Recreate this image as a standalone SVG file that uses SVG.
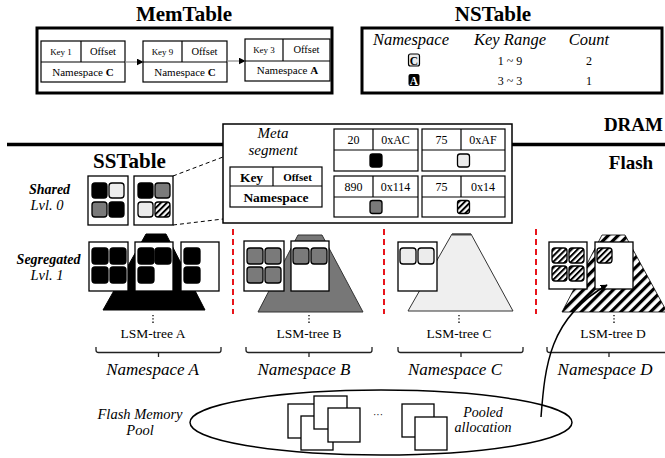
<svg xmlns="http://www.w3.org/2000/svg" width="665" height="458" viewBox="0 0 665 458">
  <defs>
    <pattern id="hatch" width="7" height="7" patternUnits="userSpaceOnUse" patternTransform="rotate(45)">
      <rect width="7" height="7" fill="#fff"/>
      <rect width="3.2" height="7" fill="#000"/>
    </pattern>
    <pattern id="hatch-fine" width="4.2" height="4.2" patternUnits="userSpaceOnUse" patternTransform="rotate(45)">
      <rect width="4.2" height="4.2" fill="#fff"/>
      <rect width="2" height="4.2" fill="#000"/>
    </pattern>
    <marker id="head" viewBox="0 0 10 10" refX="9" refY="5" markerWidth="7" markerHeight="7" markerUnits="userSpaceOnUse" orient="auto">
      <path d="M0,0 L10,5 L0,10 Z" fill="#000"/>
    </marker>
  </defs>
  <style>
    text { font-family: "Liberation Serif", "Times New Roman", serif; fill: #000; }
    .title { font-size: 21px; font-weight: bold; text-anchor: middle; }
    .frame { fill: #fff; stroke: #000; stroke-width: 3; }
    .cell { fill: #fff; stroke: #000; stroke-width: 1.2; }
    .sep { stroke: #000; stroke-width: 1.2; fill: none; }
    .c { text-anchor: middle; }
    .it { font-style: italic; }
    .bd { font-weight: bold; }
    .box { fill: #fff; stroke: #000; stroke-width: 1.3; }
    .tile { stroke: #000; stroke-width: 1.3; }
    .k { fill: #000; }
    .g { fill: #7a7a7a; }
    .l { fill: #ececec; }
    .h { fill: url(#hatch-fine); }
    .reddash { stroke: #e8141b; stroke-width: 2; stroke-dasharray: 6 4; fill: none; }
    .zoomline { stroke: #000; stroke-width: 1; stroke-dasharray: 4 3; fill: none; }
    .dots { stroke: #000; stroke-width: 1.3; stroke-dasharray: 1.3 2; fill: none; }
    .brace { stroke: #222; stroke-width: 1.3; fill: none; }
    .page { fill: #fff; stroke: #000; stroke-width: 1.3; }
  </style>

  <rect width="665" height="458" fill="#fff"/>

  <!-- MemTable -->
  <g id="memtable">
    <text class="title" x="184" y="21">MemTable</text>
    <rect class="frame" x="37" y="28" width="295" height="65"/>
    <g id="mem-entry-1">
      <rect class="cell" x="41" y="41" width="84" height="41"/>
      <path class="sep" d="M41,62 H125 M81,41 V62"/>
      <text class="c" x="61" y="55" font-size="9">Key 1</text>
      <text class="c" x="103" y="55" font-size="10.5">Offset</text>
      <text class="c" x="83" y="76" font-size="11">Namespace <tspan class="bd">C</tspan></text>
    </g>
    <g id="mem-entry-2">
      <rect class="cell" x="143" y="41" width="84" height="41"/>
      <path class="sep" d="M143,62 H227 M182,41 V62"/>
      <text class="c" x="162.5" y="55" font-size="9">Key 9</text>
      <text class="c" x="204.5" y="55" font-size="10.5">Offset</text>
      <text class="c" x="185" y="76" font-size="11">Namespace <tspan class="bd">C</tspan></text>
    </g>
    <g id="mem-entry-3">
      <rect class="cell" x="245" y="39" width="85" height="42"/>
      <path class="sep" d="M245,61 H330 M283,39 V61"/>
      <text class="c" x="264" y="53" font-size="9">Key 3</text>
      <text class="c" x="306.5" y="53" font-size="10.5">Offset</text>
      <text class="c" x="287.5" y="74" font-size="11">Namespace <tspan class="bd">A</tspan></text>
    </g>
  </g>

  <!-- NSTable -->
  <g id="nstable">
    <text class="title" x="493" y="21">NSTable</text>
    <rect class="frame" x="362" y="28" width="300" height="65"/>
    <text class="c it" x="411" y="45" font-size="16.5">Namespace</text>
    <text class="c it" x="510" y="45" font-size="16.5">Key Range</text>
    <text class="c it" x="589" y="45" font-size="16.5">Count</text>
    <rect x="408.5" y="54" width="11" height="12" rx="2" fill="#ececec" stroke="#000" stroke-width="1.2"/>
    <text class="c bd" x="414" y="64.5" font-size="11.5">C</text>
    <text class="c" x="510" y="65" font-size="12">1 ~ 9</text>
    <text class="c" x="589" y="65" font-size="12">2</text>
    <rect x="408.5" y="74" width="11" height="12" rx="2" fill="#000"/>
    <text class="c bd" x="414" y="84.5" font-size="11.5" style="fill:#fff">A</text>
    <text class="c" x="510" y="85" font-size="12">3 ~ 3</text>
    <text class="c" x="589" y="85" font-size="12">1</text>
  </g>

  <!-- DRAM / Flash boundary -->
  <g id="boundary">
    <line x1="7" y1="144.5" x2="665" y2="144.5" stroke="#000" stroke-width="3.5"/>
    <text class="bd" x="663" y="131" font-size="19" text-anchor="end">DRAM</text>
    <text class="c bd" x="631" y="169" font-size="19">Flash</text>
    <text class="title" x="129.5" y="168">SSTable</text>
  </g>

  <!-- Level labels -->
  <g id="level-labels">
    <text class="c it bd" x="49.5" y="194" font-size="14">Shared</text>
    <text class="c it" x="47" y="210" font-size="14.5">Lvl. 0</text>
    <text class="c it bd" x="48.5" y="264" font-size="14">Segregated</text>
    <text class="c it" x="47" y="280" font-size="14.5">Lvl. 1</text>
  </g>

  <!-- Shared level 0 SSTables -->
  <g id="shared-lvl0">
    <rect class="box" x="88" y="176" width="40" height="49"/>
    <rect class="tile k" x="92" y="183" width="15" height="15" rx="3"/>
    <rect class="tile l" x="109" y="183" width="15" height="15" rx="3"/>
    <rect class="tile g" x="92" y="202" width="15" height="15" rx="3"/>
    <rect class="tile k" x="109" y="202" width="15" height="15" rx="3"/>
    <rect class="box" x="134" y="176" width="39" height="49"/>
    <rect class="tile k" x="138" y="183" width="15" height="15" rx="3"/>
    <rect class="tile g" x="155" y="183" width="15" height="15" rx="3"/>
    <rect class="tile l" x="138" y="202" width="15" height="15" rx="3"/>
    <rect class="tile h" x="155" y="202" width="15" height="15" rx="3"/>
  </g>

  <!-- Meta segment -->
  <g id="meta-segment">
    <rect x="223" y="124" width="289" height="99" fill="#fff" stroke="#000" stroke-width="1.5"/>
    <text class="c it" x="273" y="138" font-size="15">Meta</text>
    <text class="c it" x="273" y="155" font-size="15">segment</text>
    <rect class="cell" x="230" y="167" width="92" height="40"/>
    <path class="sep" d="M230,186 H322 M273,167 V186"/>
    <text class="c bd" x="251.5" y="182" font-size="13.5">Key</text>
    <text class="c bd" x="297.5" y="181" font-size="11">Offset</text>
    <text class="c bd" x="276" y="202" font-size="13.5">Namespace</text>

    <rect class="cell" x="334" y="129" width="84" height="42"/>
    <path class="sep" d="M334,150 H418 M373,129 V150"/>
    <text class="c" x="353.5" y="144" font-size="12">20</text>
    <text class="c" x="395.5" y="144" font-size="12">0xAC</text>
    <rect class="tile k" x="370" y="154" width="12" height="13" rx="2.5"/>

    <rect class="cell" x="422" y="129" width="83" height="42"/>
    <path class="sep" d="M422,150 H505 M461,129 V150"/>
    <text class="c" x="441.5" y="144" font-size="12">75</text>
    <text class="c" x="483" y="144" font-size="12">0xAF</text>
    <rect class="tile l" x="457.5" y="154" width="12" height="13" rx="2.5"/>

    <rect class="cell" x="334" y="176" width="84" height="41"/>
    <path class="sep" d="M334,197 H418 M373,176 V197"/>
    <text class="c" x="353.5" y="191" font-size="12">890</text>
    <text class="c" x="395.5" y="191" font-size="12">0x114</text>
    <rect class="tile g" x="370" y="200.5" width="12" height="13" rx="2.5"/>

    <rect class="cell" x="422" y="176" width="83" height="41"/>
    <path class="sep" d="M422,197 H505 M461,176 V197"/>
    <text class="c" x="441.5" y="191" font-size="12">75</text>
    <text class="c" x="483" y="191" font-size="12">0x14</text>
    <rect class="tile h" x="457.5" y="200.5" width="12" height="13" rx="2.5"/>
  </g>

  <!-- Namespace separators -->
  <g id="separators">
    <line class="reddash" x1="233" y1="229" x2="233" y2="314"/>
    <line class="reddash" x1="384" y1="229" x2="384" y2="314"/>
    <line class="reddash" x1="536" y1="229" x2="536" y2="314"/>
  </g>

  <!-- LSM-tree A -->
  <g id="lsm-tree-a">
    <polygon points="146,234 166,234 205,310 103,310" fill="#000" stroke="#000" stroke-width="1"/>
    <rect class="box" x="89" y="242" width="39" height="49"/>
    <rect class="tile k" x="92" y="248" width="16" height="16" rx="3"/>
    <rect class="tile k" x="110" y="248" width="16" height="16" rx="3"/>
    <rect class="tile k" x="92" y="267" width="16" height="16" rx="3"/>
    <rect class="tile k" x="110" y="267" width="16" height="16" rx="3"/>
    <rect class="box" x="135" y="242" width="38" height="49"/>
    <rect class="tile k" x="138" y="248" width="16" height="16" rx="3"/>
    <rect class="tile k" x="155" y="248" width="16" height="16" rx="3"/>
    <rect class="tile k" x="138" y="267" width="16" height="16" rx="3"/>
    <rect class="box" x="181" y="242" width="38" height="49"/>
    <rect class="tile k" x="184" y="248" width="16" height="16" rx="3"/>
    <rect class="tile k" x="184" y="267" width="16" height="16" rx="3"/>
    <line class="dots" x1="153" y1="315" x2="153" y2="324"/>
    <text class="c" x="153" y="338" font-size="13.5">LSM-tree A</text>
  </g>

  <!-- LSM-tree B -->
  <g id="lsm-tree-b">
    <polygon points="298,235 322,235 363,312 258,312" fill="#777" stroke="#333" stroke-width="1"/>
    <rect class="box" x="244" y="241" width="40" height="50"/>
    <rect class="tile g" x="247" y="248" width="16" height="16" rx="3"/>
    <rect class="tile g" x="265" y="248" width="16" height="16" rx="3"/>
    <rect class="tile g" x="247" y="267" width="16" height="16" rx="3"/>
    <rect class="tile g" x="265" y="267" width="16" height="16" rx="3"/>
    <rect class="box" x="291" y="241" width="38" height="50"/>
    <rect class="tile g" x="293" y="248" width="16" height="16" rx="3"/>
    <rect class="tile g" x="311" y="248" width="16" height="16" rx="3"/>
    <line class="dots" x1="309" y1="315" x2="309" y2="324"/>
    <text class="c" x="309" y="338" font-size="13.5">LSM-tree B</text>
  </g>

  <!-- LSM-tree C -->
  <g id="lsm-tree-c">
    <polygon points="452,234 471,234 513,311 408,311" fill="#efefef" stroke="#333" stroke-width="1"/>
    <line x1="452" y1="234.5" x2="471" y2="234.5" stroke="#444" stroke-width="2"/>
    <rect class="box" x="398" y="242" width="39" height="49"/>
    <rect class="tile l" x="400" y="248" width="16" height="16" rx="3"/>
    <rect class="tile l" x="418" y="248" width="16" height="16" rx="3"/>
    <line class="dots" x1="459" y1="315" x2="459" y2="324"/>
    <text class="c" x="459" y="338" font-size="13.5">LSM-tree C</text>
  </g>

  <!-- LSM-tree D -->
  <g id="lsm-tree-d">
    <polygon points="602,235 625,235 667,312 562,312" fill="url(#hatch)" stroke="#000" stroke-width="0.8"/>
    <rect class="box" x="549" y="242" width="38" height="47"/>
    <rect class="tile h" x="552" y="248" width="15" height="15" rx="3"/>
    <rect class="tile h" x="569" y="248" width="15" height="15" rx="3"/>
    <rect class="tile h" x="552" y="266" width="15" height="15" rx="3"/>
    <rect class="tile h" x="569" y="266" width="15" height="15" rx="3"/>
    <rect class="box" x="595" y="242" width="38" height="47"/>
    <rect class="tile h" x="597" y="248" width="15" height="15" rx="3"/>
    <line class="dots" x1="614" y1="315" x2="614" y2="324"/>
    <text class="c" x="613" y="338" font-size="13.5">LSM-tree D</text>
  </g>

  <!-- Namespace braces and labels -->
  <g id="namespaces">
    <path class="brace" d="M96,347 v3 q0,2.5 2.5,2.5 H219 q2,0 2,-2.5 v-3 M158.5,352.5 v4.5"/>
    <path class="brace" d="M246,347 v3 q0,2.5 2.5,2.5 H370 q2,0 2,-2.5 v-3 M309,352.5 v4.5"/>
    <path class="brace" d="M398,347 v3 q0,2.5 2.5,2.5 H521 q2,0 2,-2.5 v-3 M461,352.5 v4.5"/>
    <path class="brace" d="M547,347 v3 q0,2.5 2.5,2.5 H672 M609,352.5 v4.5"/>
    <text class="c it" x="152.5" y="375" font-size="17">Namespace A</text>
    <text class="c it" x="304" y="375" font-size="17">Namespace B</text>
    <text class="c it" x="455" y="375" font-size="17">Namespace C</text>
    <text class="c it" x="605" y="375" font-size="17">Namespace D</text>
  </g>

  <!-- Flash memory pool -->
  <g id="flash-pool">
    <ellipse cx="381" cy="422.5" rx="191" ry="32.5" fill="#fff" stroke="#000" stroke-width="1.5"/>
    <text class="c it" x="140" y="419" font-size="14.5">Flash Memory</text>
    <text class="c it" x="140" y="435" font-size="14.5">Pool</text>
    <rect class="page" x="288" y="404" width="32" height="34"/>
    <rect class="page" x="301" y="416" width="32" height="34"/>
    <rect class="page" x="314" y="396" width="33" height="33"/>
    <rect class="page" x="328" y="408" width="32" height="34"/>
    <text class="c" x="378" y="418" font-size="10">···</text>
    <rect class="page" x="402" y="404" width="32" height="33"/>
    <rect class="page" x="415" y="417" width="32" height="33"/>
    <text class="c it" x="483" y="417" font-size="14">Pooled</text>
    <text class="c it" x="483" y="432" font-size="14">allocation</text>
  </g>

  <!-- Connectors -->
  <g id="connectors">
    <line x1="125" y1="62" x2="143" y2="62" stroke="#888" stroke-width="1.2" marker-end="url(#head)"/>
    <line x1="227" y1="61" x2="245" y2="61" stroke="#888" stroke-width="1.2" marker-end="url(#head)"/>
    <line class="zoomline" x1="173" y1="176" x2="223" y2="157"/>
    <line class="zoomline" x1="173" y1="225" x2="223" y2="219"/>
    <path d="M541,417 C545,366 549,318 607,285" fill="none" stroke="#000" stroke-width="1.5" marker-end="url(#head)"/>
  </g>
</svg>
